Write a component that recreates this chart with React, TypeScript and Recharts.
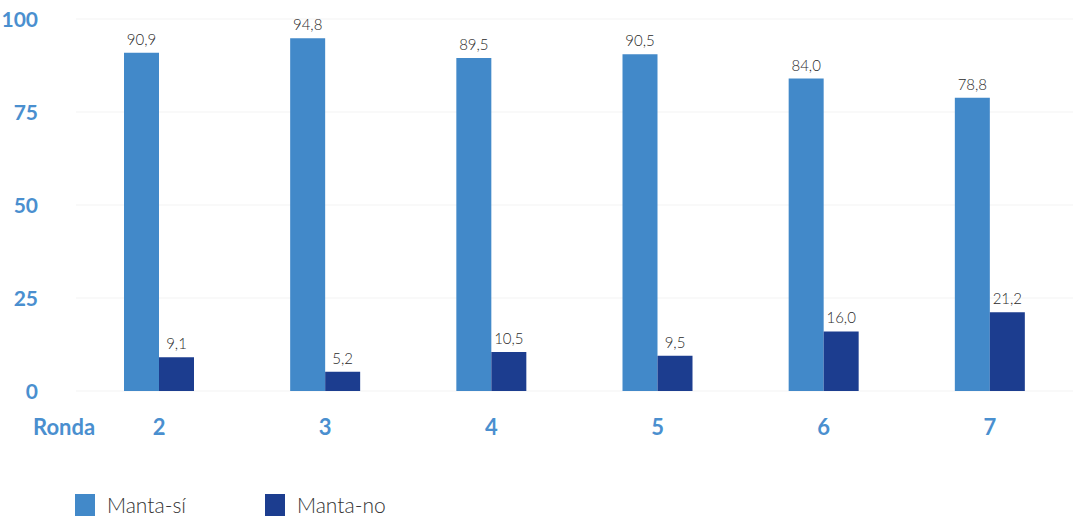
import React from "react";
import { BarChart, Bar, XAxis, YAxis, CartesianGrid, LabelList, Legend } from "recharts";

const rondas = ["2", "3", "4", "5", "6", "7"];
const mantaSi = [90.9, 94.8, 89.5, 90.5, 84.0, 78.8];
const mantaNo = [9.1, 5.2, 10.5, 9.5, 16.0, 21.2];
const yTicks = [0, 25, 50, 75, 100];

const LIGHT = "#4289c9";
const DARK = "#1c3d8f";
const AXIS_BLUE = "#4a8fcf";

const data = rondas.map((r, i) => ({ ronda: r, si: mantaSi[i], no: mantaNo[i] }));

const fmt = (v: any) => Number(v).toFixed(1).replace(".", ",");

const YTick = (props: any) => {
    const { x, y, payload } = props;
    return (
        <text x={x - 30} y={y} dy={8} textAnchor="end" fill={AXIS_BLUE}
            fontFamily="Lato" fontWeight={700} fontSize={21}>
            {payload.value}
        </text>
    );
};

// the first tick also carries the "Ronda" caption at the left
const XTick = (props: any) => {
    const { x, y, payload, index } = props;
    return (
        <g>
            {index === 0 && (
                <text x={33} y={y + 36} textAnchor="start" fill={AXIS_BLUE}
                    fontFamily="Lato" fontWeight={700} fontSize={22}>
                    Ronda
                </text>
            )}
            <text x={x} y={y + 36} textAnchor="middle" fill={AXIS_BLUE}
                fontFamily="Lato" fontWeight={700} fontSize={22}>
                {payload.value}
            </text>
        </g>
    );
};

const LegendBox = () => (
    <div style={{ position: "relative", height: 60, fontFamily: "Lato", fontWeight: 300, fontSize: 21, color: "#333" }}>
        {[{ name: "Manta-sí", c: LIGHT, x: 75 }, { name: "Manta-no", c: DARK, x: 265 }].map((it) => (
            <div key={it.name} style={{ position: "absolute", left: it.x, top: 34, display: "flex", alignItems: "center" }}>
                <span style={{ display: "inline-block", width: 20, height: 22, background: it.c, marginRight: 12 }} />
                <span>{it.name}</span>
            </div>
        ))}
    </div>
);

const App: React.FC = () => {
    return (
        <div style={{ position: "absolute", left: 0, top: 0, width: 1074, height: 518, background: "#fff" }}>
            <BarChart width={1074} height={518} data={data} barGap={0} barSize={35}
                margin={{ top: 19, right: 1, bottom: 0, left: 0 }}>
                <CartesianGrid vertical={false} stroke="#f3f3f3" />
                <XAxis dataKey="ronda" axisLine={false} tickLine={false} height={67}
                    tick={<XTick />} interval={0} />
                <YAxis domain={[0, 100]} ticks={yTicks} axisLine={false} tickLine={false}
                    width={76} tick={<YTick />} interval={0} />
                <Legend verticalAlign="bottom" height={60} content={<LegendBox />}
                    wrapperStyle={{ left: 0, width: 1074 }} />
                <Bar dataKey="si" name="Manta-sí" fill={LIGHT} isAnimationActive={false}>
                    <LabelList dataKey="si" position="top" offset={8} formatter={fmt}
                        fill="#2a2a2a" fontFamily="Lato" fontWeight={300} fontSize={15} />
                </Bar>
                <Bar dataKey="no" name="Manta-no" fill={DARK} isAnimationActive={false}>
                    <LabelList dataKey="no" position="top" offset={8} formatter={fmt}
                        fill="#2a2a2a" fontFamily="Lato" fontWeight={300} fontSize={15} />
                </Bar>
            </BarChart>
        </div>
    );
};

export default App;
